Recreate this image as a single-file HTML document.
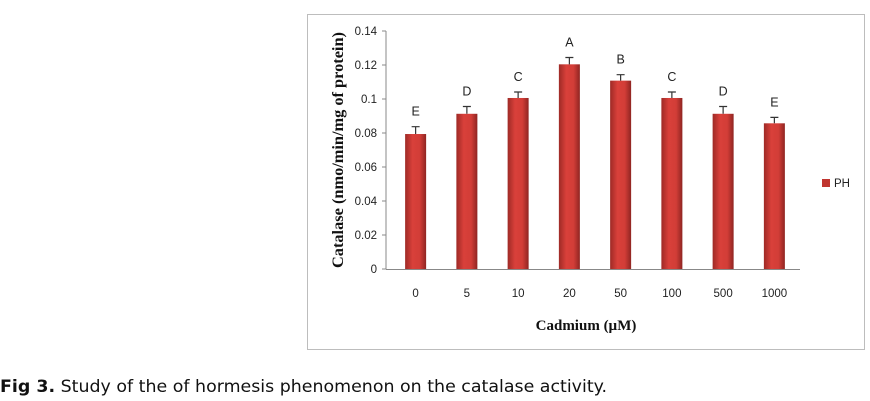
<!DOCTYPE html>
<html><head><meta charset="utf-8"><style>
html,body{margin:0;padding:0;background:#fff;width:870px;height:401px;overflow:hidden}
svg{display:block}
</style></head><body>
<svg width="870" height="401" xmlns="http://www.w3.org/2000/svg">
<defs>
<linearGradient id="bg" x1="0" x2="1" y1="0" y2="0">
<stop offset="0" stop-color="#9e2a26"/><stop offset="0.35" stop-color="#d9403a"/><stop offset="0.7" stop-color="#d23d37"/><stop offset="1" stop-color="#8f2522"/>
</linearGradient>
</defs>
<rect x="307.5" y="14.5" width="557" height="335" fill="#fff" stroke="#bdbdbd"/>
<g id="plot"></g>
<text x="0" y="392" font-family="'DejaVu Sans',sans-serif" font-size="17" fill="#111" textLength="607" lengthAdjust="spacingAndGlyphs"><tspan font-weight="bold">Fig 3.</tspan> Study of the of hormesis phenomenon on the catalase activity.</text>
</svg>
<script>
const categories=["0","5","10","20","50","100","500","1000"];
const values=[0.0794,0.0913,0.1006,0.1204,0.1108,0.1006,0.0913,0.0857];
const errors=[0.0043,0.0043,0.0035,0.0040,0.0035,0.0035,0.0043,0.0035];
const letters=["E","D","C","A","B","C","D","E"];
const yTicks=[0,0.02,0.04,0.06,0.08,0.1,0.12,0.14];
const tickLabels=["0","0.02","0.04","0.06","0.08","0.1","0.12","0.14"];
const NS="http://www.w3.org/2000/svg";
const g=document.getElementById('plot');
const X0=390,X1=800,Y0=269,Y1=31,YMAX=0.14;
const band=(X1-X0)/categories.length;
const xs=i=>X0+band*(i+0.5);
const ys=v=>Y0-(v/YMAX)*(Y0-Y1);
function mk(t,a){const e=document.createElementNS(NS,t);for(const k in a)e.setAttribute(k,a[k]);g.appendChild(e);return e;}
const F="'Liberation Sans',sans-serif";
let ax=mk('line',{x1:386,y1:Y1,x2:386,y2:Y0,stroke:'#888'});


let bx=mk('line',{x1:386,y1:Y0+0.5,x2:X1,y2:Y0+0.5,stroke:'#888'});


yTicks.forEach((v,i)=>{
  let tk=mk('line',{x1:382,x2:386,y1:ys(v),y2:ys(v),stroke:'#888'});
  
  
  let t=mk('text',{x:377,y:ys(v)+4,'text-anchor':'end','font-family':F,'font-size':11.5,fill:'#222'});
  t.textContent=tickLabels[i];
  
  
});
const bw=21;
categories.forEach((c,i)=>{
  const cx=xs(i),top=ys(values[i]);
  let b=mk('rect',{x:cx-bw/2,y:top,width:bw,height:Y0-top,fill:'url(#bg)'});
  
  
  let e=ys(values[i]+errors[i]);
  let el=mk('path',{d:`M${cx} ${top}V${e}M${cx-4} ${e}H${cx+4}`,stroke:'#333','stroke-width':1.2,fill:'none'});
  
  
  let l=mk('text',{x:cx,y:e-11,'text-anchor':'middle','font-family':F,'font-size':12.5,fill:'#222'});
  l.textContent=letters[i];
  
  
  let t=mk('text',{x:cx,y:297,'text-anchor':'middle','font-family':F,'font-size':11.5,fill:'#222'});
  t.textContent=c;
  
  
});
let xt=mk('text',{x:586,y:330,'text-anchor':'middle','font-family':"'Liberation Serif',serif",'font-size':15,'font-weight':'bold',fill:'#111'});
xt.textContent='Cadmium (µM)';


let yt=mk('text',{x:0,y:0,transform:'translate(343,150) rotate(-90)','text-anchor':'middle','font-family':"'Liberation Serif',serif",'font-size':16,'font-weight':'bold',fill:'#111',textLength:236,lengthAdjust:'spacingAndGlyphs'});
yt.textContent='Catalase  (nmo/min/mg of protein)';


let ls=mk('rect',{x:822,y:179,width:8,height:8,fill:'#c0352f'});


let lt=mk('text',{x:834,y:187,'font-family':F,'font-size':11.5,fill:'#222'});
lt.textContent='PH';


</script>
</body></html>
